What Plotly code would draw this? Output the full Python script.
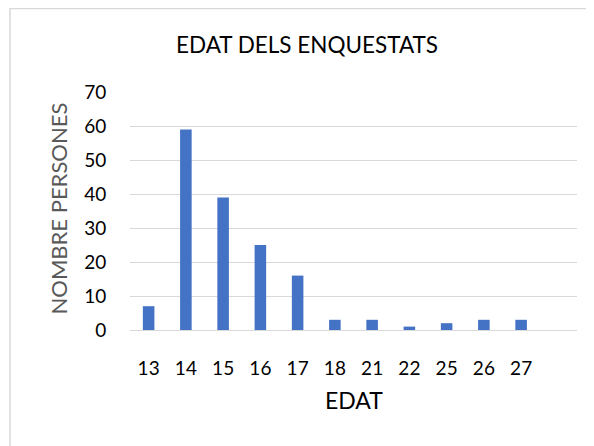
import plotly.graph_objects as go

categories = ["13", "14", "15", "16", "17", "18", "21", "22", "25", "26", "27"]
values = [7, 59, 39, 25, 16, 3, 3, 1, 2, 3, 3]
y_ticks = [0, 10, 20, 30, 40, 50, 60, 70]

FONT = "Lato, 'Open Sans', sans-serif"
OFF = 8  # page body margin
W, H = 594 - OFF, 446 - OFF
L, T = 130 - OFF, 92 - OFF
R = W - (577 - OFF)
B = H - (330 - OFF)
pw, ph = W - L - R, H - T - B


def px(xp):
    return (xp - OFF - L) / pw


def py(yp):
    return (H - B - (yp - OFF)) / ph


fig = go.Figure(go.Bar(x=categories, y=values, marker_color="#4472C4",
                       marker_line_width=0, width=0.31))

fig.update_layout(
    width=W, height=H,
    margin=dict(l=L, r=R, t=T, b=B),
    paper_bgcolor="white", plot_bgcolor="white",
    showlegend=False,
    font=dict(family=FONT, color="#000000", size=19),
    title=dict(text="EDAT DELS ENQUESTATS", xref="container", x=(307 - OFF) / W,
               xanchor="center", yref="container", y=1 - (45.5 - OFF) / H,
               yanchor="middle",
               font=dict(size=22.5, color="#000000", family=FONT)),
    xaxis=dict(type="category", range=[-0.5, 11.5], showgrid=False,
               showline=True, linecolor="#d9d9d9", linewidth=1,
               ticks="outside", ticklen=21, tickcolor="rgba(0,0,0,0)",
               tickfont=dict(size=19, color="#000000")),
    yaxis=dict(range=[0, 70], tickvals=y_ticks, showgrid=True,
               gridcolor="#d9d9d9", gridwidth=1, zeroline=False,
               showline=False, ticks="outside", ticklen=19,
               tickcolor="rgba(0,0,0,0)",
               tickfont=dict(size=19, color="#000000")),
    annotations=[
        dict(text="NOMBRE PERSONES", xref="paper", yref="paper",
             x=px(57.5), y=py(209), textangle=-90,
             showarrow=False, xanchor="center", yanchor="middle",
             font=dict(size=22, color="#595959", family=FONT)),
        dict(text="EDAT", xref="paper", yref="paper",
             x=px(353.5), y=py(400),
             showarrow=False, xanchor="center", yanchor="middle",
             font=dict(size=23, color="#000000", family=FONT)),
    ],
    shapes=[dict(type="rect", xref="paper", yref="paper",
                 x0=px(10), x1=2, y0=-2, y1=py(OFF + 0.5),
                 line=dict(color="#d9d9d9", width=1.5), fillcolor="rgba(0,0,0,0)")],
)

fig.write_html("out.html")
